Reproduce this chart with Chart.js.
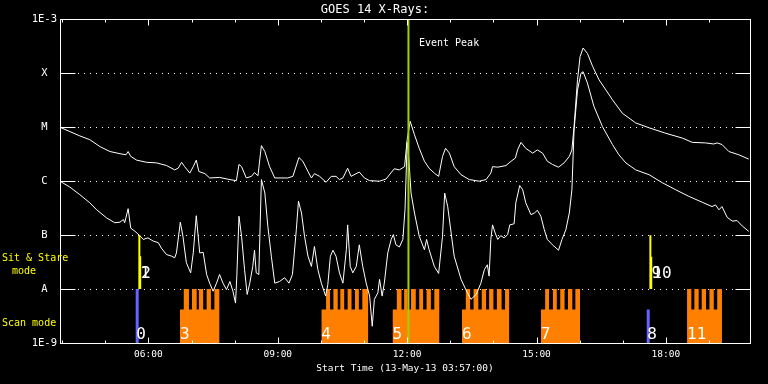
<!DOCTYPE html>
<html>
<head>
<meta charset="utf-8">
<title>GOES 14 X-Rays</title>
<script src="https://cdn.jsdelivr.net/npm/chart.js@4.4.1/dist/chart.umd.min.js"></script>
<style>
  html, body { margin: 0; padding: 0; background: #000; }
  #wrap { width: 768px; height: 384px; }
</style>
</head>
<body>
<div id="wrap"><canvas id="goes"></canvas></div>
<script>
// time = decimal hours UT on 13-May-13, flux = log10(W/m^2)
// long channel (1-8 A)
const longTime = [3.95,4.18,4.41,4.64,4.88,5.11,5.34,5.48,5.53,5.59,5.73,5.96,6.19,6.42,6.61,6.69,6.77,6.84,6.96,7.04,
  7.11,7.17,7.31,7.42,7.65,7.89,8.04,8.10,8.16,8.27,8.39,8.46,8.54,8.62,8.70,8.81,8.93,9.23,9.35,9.49,
  9.58,9.70,9.78,9.85,9.97,10.12,10.24,10.35,10.43,10.51,10.62,10.70,10.89,11.01,11.13,11.36,11.51,11.70,11.82,11.94,
  12.00,12.07,12.17,12.28,12.40,12.51,12.63,12.73,12.82,12.89,12.98,13.09,13.25,13.44,13.67,13.83,13.94,13.98,14.10,14.29,
  14.41,14.51,14.56,14.64,14.75,14.91,15.02,15.14,15.25,15.37,15.51,15.64,15.76,15.82,15.87,15.95,16.01,16.08,16.18,16.30,
  16.45,16.61,16.76,16.99,17.30,17.61,17.99,18.38,18.61,18.92,19.11,19.19,19.30,19.46,19.69,19.92];
const longLog = [-5.00,-5.08,-5.16,-5.23,-5.36,-5.45,-5.49,-5.51,-5.45,-5.54,-5.61,-5.65,-5.66,-5.71,-5.79,-5.76,-5.65,-5.73,-5.85,-5.73,
  -5.61,-5.82,-5.86,-5.94,-5.93,-5.97,-5.99,-5.69,-5.73,-5.94,-5.91,-5.84,-5.90,-5.34,-5.45,-5.73,-5.94,-5.94,-5.91,-5.56,
  -5.63,-5.82,-5.94,-5.86,-5.91,-6.02,-5.91,-5.91,-5.97,-5.94,-5.76,-5.91,-5.83,-5.94,-5.99,-6.00,-5.96,-5.77,-5.79,-5.73,
  -5.23,-4.89,-5.14,-5.39,-5.63,-5.76,-5.85,-5.91,-5.54,-5.39,-5.48,-5.73,-5.88,-5.97,-6.00,-5.97,-5.85,-5.73,-5.74,-5.71,
  -5.63,-5.57,-5.42,-5.28,-5.39,-5.48,-5.42,-5.48,-5.63,-5.69,-5.74,-5.66,-5.54,-5.42,-4.99,-4.12,-3.69,-3.53,-3.63,-3.87,
  -4.12,-4.31,-4.49,-4.74,-4.92,-5.01,-5.11,-5.20,-5.28,-5.29,-5.31,-5.29,-5.32,-5.45,-5.51,-5.59];

// short channel (0.5-4 A)
const shortTime = [3.95,4.18,4.41,4.64,4.80,5.03,5.22,5.34,5.42,5.45,5.53,5.59,5.69,5.80,5.88,5.99,6.11,6.23,6.30,6.42,
  6.54,6.61,6.65,6.74,6.80,6.88,6.98,7.04,7.11,7.19,7.27,7.35,7.42,7.50,7.58,7.65,7.73,7.81,7.89,7.96,
  8.02,8.05,8.10,8.16,8.23,8.29,8.35,8.42,8.46,8.50,8.56,8.62,8.70,8.77,8.85,8.93,9.04,9.16,9.26,9.34,
  9.43,9.48,9.55,9.62,9.70,9.78,9.85,9.93,10.01,10.11,10.16,10.22,10.28,10.35,10.43,10.51,10.59,10.62,10.68,10.74,
  10.82,10.89,10.97,11.05,11.13,11.19,11.24,11.32,11.36,11.42,11.47,11.55,11.63,11.68,11.74,11.82,11.90,11.95,12.00,12.04,
  12.09,12.17,12.28,12.40,12.45,12.51,12.63,12.73,12.82,12.87,12.94,13.09,13.25,13.36,13.48,13.60,13.71,13.79,13.86,13.90,
  13.94,13.98,14.04,14.10,14.17,14.25,14.33,14.38,14.48,14.52,14.61,14.68,14.75,14.87,14.95,15.02,15.10,15.18,15.25,15.37,
  15.51,15.59,15.68,15.76,15.82,15.87,15.95,16.03,16.08,16.18,16.33,16.53,16.76,16.91,17.07,17.30,17.61,17.92,18.23,18.53,
  18.84,19.07,19.15,19.23,19.30,19.42,19.54,19.65,19.77,19.92];
const shortLog = [-6.00,-6.11,-6.25,-6.40,-6.53,-6.68,-6.77,-6.76,-6.71,-6.77,-6.51,-6.87,-6.93,-7.01,-7.08,-7.05,-7.11,-7.14,-7.24,-7.36,
  -7.39,-7.42,-7.33,-6.76,-7.02,-7.51,-7.70,-7.33,-6.64,-7.33,-7.32,-7.73,-7.89,-8.04,-7.89,-7.73,-7.89,-8.01,-7.86,-8.04,
  -8.26,-7.76,-6.65,-7.02,-7.64,-8.10,-7.89,-7.58,-7.28,-7.70,-7.73,-5.97,-6.22,-6.84,-7.39,-7.89,-7.86,-7.79,-7.89,-7.73,
  -6.90,-6.37,-6.59,-7.02,-7.39,-7.58,-7.21,-7.64,-7.89,-8.13,-7.92,-7.39,-7.28,-7.39,-7.70,-7.89,-7.27,-6.81,-7.58,-7.70,
  -7.58,-7.18,-7.58,-7.89,-8.13,-8.69,-8.19,-8.07,-7.82,-8.13,-7.89,-7.33,-7.08,-6.99,-7.18,-7.22,-7.08,-6.53,-5.28,-5.60,
  -6.22,-6.59,-7.02,-7.27,-7.08,-7.27,-7.58,-7.71,-7.02,-6.22,-6.47,-7.39,-7.82,-8.01,-8.19,-8.10,-7.89,-7.64,-7.55,-7.76,
  -7.08,-6.81,-6.96,-7.08,-7.01,-7.05,-6.99,-6.81,-6.79,-6.40,-6.08,-6.16,-6.40,-6.62,-6.59,-6.54,-6.65,-6.90,-7.08,-7.18,
  -7.28,-7.08,-6.90,-6.59,-6.16,-5.05,-4.31,-4.00,-3.97,-4.18,-4.61,-4.99,-5.32,-5.51,-5.66,-5.79,-5.88,-6.03,-6.16,-6.28,
  -6.39,-6.47,-6.44,-6.53,-6.47,-6.67,-6.74,-6.73,-6.83,-6.93];

// axes
const yDecades = [-9, -8, -7, -6, -5, -4, -3];
const yTickLabels = ['1E-9', 'A', 'B', 'C', 'M', 'X', '1E-3'];
const xTickHours = [6, 9, 12, 15, 18];
const xTickLabels = ['06:00', '09:00', '12:00', '15:00', '18:00'];

// event peak
const eventPeak = 12.03;

// sit & stare observations
const sitStareTimes = [5.79, 5.81, 17.64, 17.66];
const sitStareTops = [-7, -7.39, -7, -7.4];
const sitStareIds = ['1', '2', '9', '10'];

// scan observations (single)
const scanTimes = [5.74, 17.59];
const scanTops = [-8, -8.38];
const scanIds = ['0', '8'];

// scan rasters
const rasterIds = ['3', '4', '5', '6', '7', '11'];
const rasterStart = [6.73, 10.01, 11.66, 13.27, 15.10, 18.49];
const rasterEnd = [7.65, 11.10, 12.75, 14.37, 16.01, 19.30];
const rasterSteps = [
  [[6.82, 6.94], [7.01, 7.12], [7.17, 7.27], [7.35, 7.45], [7.53, 7.65]],
  [[10.12, 10.21], [10.29, 10.39], [10.45, 10.54], [10.62, 10.71], [10.79, 10.88], [10.96, 11.10]],
  [[11.76, 11.87], [11.93, 12.01], [12.09, 12.20], [12.28, 12.37], [12.45, 12.55], [12.63, 12.75]],
  [[13.36, 13.46], [13.54, 13.65], [13.73, 13.83], [13.90, 14.00], [14.08, 14.19], [14.27, 14.37]],
  [[15.20, 15.29], [15.38, 15.47], [15.55, 15.65], [15.73, 15.83], [15.90, 16.01]],
  [[18.49, 18.59], [18.66, 18.76], [18.83, 18.93], [19.01, 19.11], [19.19, 19.30]]
];

const RASTER_TOP = -8;
const RASTER_BODY = -8.38;

const WHITE = '#ffffff';
const ORANGE = '#ff8000';
const YELLOW = '#ffff00';
const BLUE = '#6464ff';
const GREEN = '#a0d000';

function toPoints(ts, vs) {
  return ts.map((t, i) => ({x: t, y: vs[i]}));
}

function vline(t, y0, y1, color, w) {
  return {
    data: [{x: t, y: y0}, {x: t, y: y1}],
    borderColor: color,
    borderWidth: w,
    pointRadius: 0,
    fill: false
  };
}

function rasterOutline(i) {
  let pts = [{x: rasterStart[i], y: RASTER_BODY}];
  let last = rasterStart[i];
  rasterSteps[i].forEach(function(s) {
    pts.push({x: s[0], y: RASTER_TOP});
    pts.push({x: s[1], y: RASTER_BODY});
    last = s[1];
  });
  if (last < rasterEnd[i]) pts.push({x: rasterEnd[i], y: RASTER_BODY});
  return pts;
}

let datasets = [];
datasets.push(vline(eventPeak, -9, -3, GREEN, 2));
sitStareTimes.forEach((t, i) => datasets.push(vline(t, sitStareTops[i], -8, YELLOW, 2)));
scanTimes.forEach((t, i) => datasets.push(vline(t, scanTops[i], -9, BLUE, 3)));
datasets.push({
  data: toPoints(longTime, longLog),
  borderColor: WHITE, borderWidth: 1, pointRadius: 0, fill: false, tension: 0
});
datasets.push({
  data: toPoints(shortTime, shortLog),
  borderColor: WHITE, borderWidth: 1, pointRadius: 0, fill: false, tension: 0
});
rasterIds.forEach((id, i) => {
  datasets.push({
    data: rasterOutline(i),
    stepped: true,
    fill: 'start',
    backgroundColor: ORANGE,
    borderColor: 'rgba(0,0,0,0)',
    borderWidth: 0,
    pointRadius: 0
  });
});

// IDL style frame, inward ticks and annotations
const overlay = {
  id: 'overlay',
  afterDatasetsDraw(chart) {
    const {ctx, chartArea: a, scales: {x, y}} = chart;
    ctx.save();
    ctx.strokeStyle = WHITE;
    ctx.lineWidth = 1;
    const L = Math.round(a.left) + 0.5, R = Math.round(a.right) + 0.5;
    const T = Math.round(a.top) + 0.5, B = Math.round(a.bottom) + 0.5;
    ctx.strokeRect(L, T, R - L, B - T);
    ctx.beginPath();
    y.ticks.forEach(function(tk) {
      const py = Math.round(y.getPixelForValue(tk.value)) + 0.5;
      ctx.moveTo(L, py); ctx.lineTo(L + 15, py);
      ctx.moveTo(R - 15, py); ctx.lineTo(R, py);
    });
    for (let h = Math.ceil(x.min); h <= x.max; h++) {
      const px = Math.round(x.getPixelForValue(h)) + 0.5;
      const len = xTickHours.includes(h) ? 6 : 3;
      ctx.moveTo(px, B); ctx.lineTo(px, B - len);
      ctx.moveTo(px, T); ctx.lineTo(px, T + len);
    }
    ctx.stroke();

    ctx.fillStyle = WHITE;
    ctx.textAlign = 'left';
    ctx.textBaseline = 'middle';
    ctx.font = '10px "DejaVu Sans Mono"';
    ctx.fillText('Event Peak', x.getPixelForValue(eventPeak) + 10.5, a.top + 24);

    ctx.font = '16px "DejaVu Sans Mono"';
    ctx.textBaseline = 'alphabetic';
    const yA = y.getPixelForValue(-8);
    sitStareTimes.forEach((t, i) => ctx.fillText(sitStareIds[i], x.getPixelForValue(t) + 1, yA - 11));
    scanTimes.forEach((t, i) => ctx.fillText(scanIds[i], x.getPixelForValue(t) - 1, a.bottom - 4));
    rasterStart.forEach((t, i) => ctx.fillText(rasterIds[i], x.getPixelForValue(t), a.bottom - 4));

    ctx.fillStyle = YELLOW;
    ctx.font = '10px "DejaVu Sans Mono"';
    ctx.textBaseline = 'middle';
    ctx.fillText('Sit & Stare', 2, yA - 31);
    ctx.fillText('mode', 12, yA - 18);
    ctx.fillText('Scan mode', 2, yA + 34);
    ctx.restore();
  }
};

Chart.defaults.font.family = '"DejaVu Sans Mono", monospace';
Chart.defaults.color = WHITE;

new Chart(document.getElementById('goes'), {
  type: 'line',
  data: {datasets: datasets},
  options: {
    responsive: true,
    maintainAspectRatio: false,
    animation: false,
    events: [],
    layout: {padding: {left: 0, right: 18, top: 0, bottom: 0}},
    plugins: {
      legend: {display: false},
      tooltip: {enabled: false},
      title: {
        display: true,
        text: 'GOES 14 X-Rays:',
        color: WHITE,
        font: {size: 12, weight: 'normal'},
        padding: {top: 3, bottom: 2}
      }
    },
    scales: {
      x: {
        type: 'linear',
        min: 3.95,
        max: 19.95,
        afterBuildTicks: s => { s.ticks = xTickHours.map(v => ({value: v})); },
        afterFit: s => { s.height = 41; },
        grid: {display: false, drawTicks: false},
        border: {display: false},
        ticks: {
          color: WHITE, font: {size: 9.5}, padding: 6, maxRotation: 0, autoSkip: false,
          callback: v => xTickLabels[xTickHours.indexOf(v)]
        },
        title: {
          display: true,
          text: 'Start Time (13-May-13 03:57:00)',
          color: WHITE,
          font: {size: 9.5},
          padding: {top: 0, bottom: 10}
        }
      },
      y: {
        type: 'linear',
        min: -9,
        max: -3,
        afterBuildTicks: s => { s.ticks = yDecades.map(v => ({value: v})); },
        afterFit: s => { s.width = 60; },
        grid: {
          drawTicks: false,
          lineWidth: 1,
          color: c => (c.tick && (c.tick.value === -9 || c.tick.value === -3)) ? 'rgba(0,0,0,0)' : WHITE
        },
        border: {display: false, dash: [1, 5]},
        ticks: {
          color: WHITE, font: {size: 10.5}, padding: 3, crossAlign: 'center', autoSkip: false,
          callback: v => yTickLabels[yDecades.indexOf(v)]
        }
      }
    }
  },
  plugins: [overlay]
});
</script>
</body>
</html>
